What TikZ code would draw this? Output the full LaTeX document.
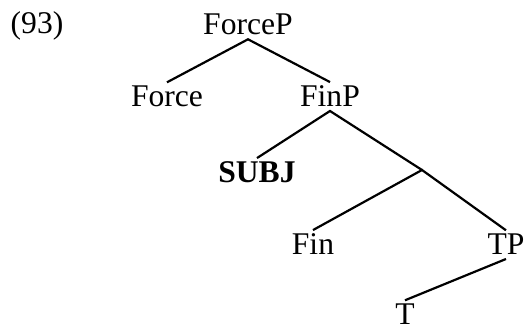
\documentclass[tikz,border=0pt]{standalone}
\usepackage{fontspec}
\setmainfont{Liberation Serif}
\tikzset{
  cat/.style={anchor=base, inner sep=1.8pt, font=\fontsize{15.8}{18}\selectfont},
  branch/.style={line width=1.1pt}
}
\begin{document}
\begin{tikzpicture}[x=0.5pt,y=-0.5pt]
\useasboundingbox (0,0) rectangle (527,330);
\node[cat] (ex) at (37,34) {(93)};
\node[cat] (forcep) at (248,35) {ForceP};
\node[cat] (force) at (167,107) {Force};
\node[cat] (finp) at (330,107) {FinP};
\node[cat] (subj) at (257,183) {\textbf{SUBJ}};
\coordinate (fbar) at (422,170);
\node[cat] (fin) at (313,255) {Fin};
\node[cat] (tp) at (506,255) {TP};
\node[cat] (t) at (405,325) {T};
\draw [branch] (force.north) -- (forcep.south) -- (finp.north);
\draw [branch] (subj.north) -- (finp.south) -- (fbar);
\draw [branch] (fin.north) -- (fbar) -- (tp.north);
\draw [branch] (tp.south) -- (t.north);
\end{tikzpicture}
\end{document}
